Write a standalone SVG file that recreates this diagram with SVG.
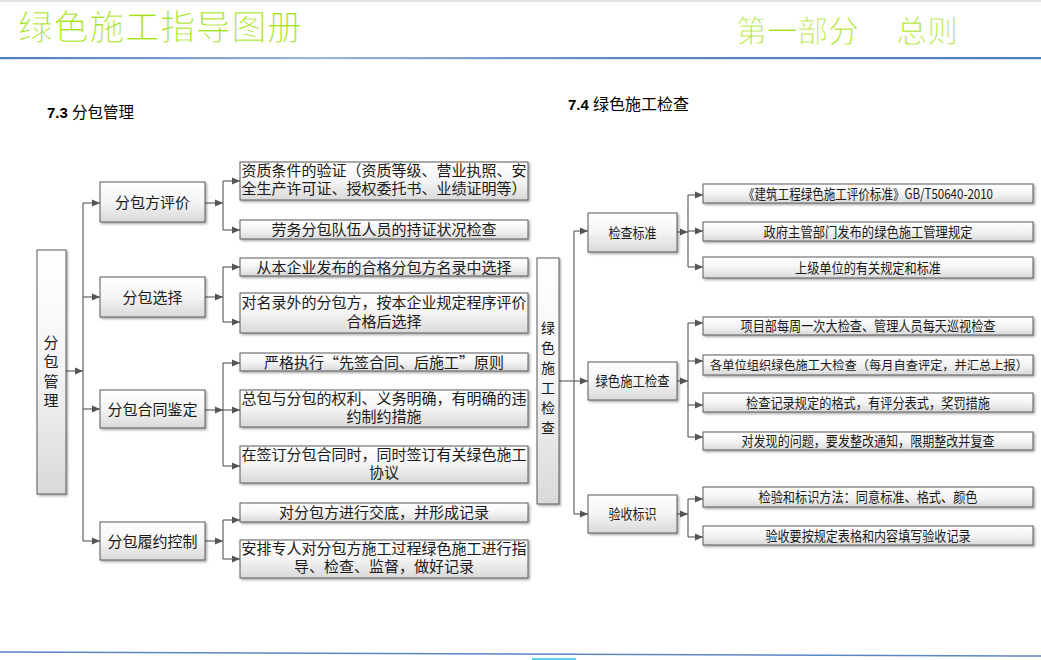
<svg xmlns="http://www.w3.org/2000/svg" width="1041" height="660" viewBox="0 0 1041 660">
<style>
.box{fill:url(#bg);stroke:#5a5a5a;stroke-width:1;filter:url(#sh)}
.t{font-family:"Noto Sans CJK SC","Liberation Sans",sans-serif;fill:#1a1a1a;text-anchor:middle}
.l{font-size:15px}
.r{font-size:14px}
.c{fill:none;stroke:#555;stroke-width:1.1}
.a{marker-end:url(#ah)}
.hd{font-family:"Noto Sans CJK SC","Liberation Sans",sans-serif;fill:#a2e21c;stroke:#fff;stroke-width:1.1}
.sec{font-family:"Liberation Sans","Noto Sans CJK SC",sans-serif;font-size:15px;fill:#000}
</style>
<defs>
<linearGradient id="bg" x1="0" y1="0" x2="0" y2="1">
<stop offset="0" stop-color="#ffffff"/>
<stop offset="0.5" stop-color="#f4f4f4"/>
<stop offset="1" stop-color="#d9d9d9"/>
</linearGradient>
<linearGradient id="bl" x1="0" y1="0" x2="1" y2="0">
<stop offset="0" stop-color="#4a7cc0"/>
<stop offset="0.3" stop-color="#9cb6da"/>
<stop offset="0.6" stop-color="#5a88c4"/>
<stop offset="1" stop-color="#4a7cc0"/>
</linearGradient>
<filter id="sh" x="-5%" y="-5%" width="115%" height="130%">
<feDropShadow dx="1.5" dy="1.5" stdDeviation="0.8" flood-color="#000" flood-opacity="0.35"/>
</filter>
<marker id="ah" markerUnits="userSpaceOnUse" markerWidth="9" markerHeight="8" refX="8" refY="4" orient="auto">
<path d="M0,0.5 L8,4 L0,7.5 z" fill="#555"/>
</marker>
</defs>
<rect x="0" y="0" width="1041" height="660" fill="#fff"/>
<rect x="0" y="0" width="1041" height="2" fill="#e2e2e2"/>
<g id="header">
<text class="hd" x="18" y="40" font-size="35" textLength="284">绿色施工指导图册</text>
<text class="hd" x="736" y="42" font-size="31" textLength="123">第一部分</text>
<text class="hd" x="896" y="42" font-size="31" textLength="62">总则</text>
<rect x="0" y="57" width="1041" height="2.2" fill="url(#bl)"/>
</g>
<g id="headings">
<text class="sec" x="47" y="118"><tspan font-weight="bold">7.3</tspan> <tspan font-family="Noto Sans CJK SC,sans-serif" font-size="15.5">分包管理</tspan></text>
<text class="sec" x="568" y="110"><tspan font-weight="bold">7.4</tspan> <tspan font-family="Noto Sans CJK SC,sans-serif" font-size="16">绿色施工检查</tspan></text>
</g>
<g id="connectors">
<path class="c a" d="M66,371 H83"/>
<path class="c" d="M83,203 V541"/>
<path class="c a" d="M83,203 H100"/>
<path class="c a" d="M83,297 H100"/>
<path class="c a" d="M83,409 H100"/>
<path class="c a" d="M83,541 H100"/>
<path class="c a" d="M205,203 H223"/>
<path class="c" d="M223,181 V230"/>
<path class="c a" d="M223,181 H240"/>
<path class="c a" d="M223,230 H240"/>
<path class="c a" d="M205,297 H223"/>
<path class="c" d="M223,267 V322"/>
<path class="c a" d="M223,267 H240"/>
<path class="c a" d="M223,322 H240"/>
<path class="c a" d="M205,410 H223"/>
<path class="c" d="M223,363 V466"/>
<path class="c a" d="M223,363 H240"/>
<path class="c a" d="M223,410 H240"/>
<path class="c a" d="M223,466 H240"/>
<path class="c a" d="M205,541 H223"/>
<path class="c" d="M223,520 V559"/>
<path class="c a" d="M223,520 H240"/>
<path class="c a" d="M223,559 H240"/>
<path class="c a" d="M559,381 H588"/>
<path class="c" d="M574,231 V514"/>
<path class="c a" d="M574,231 H588"/>
<path class="c a" d="M574,514 H588"/>
<path class="c a" d="M677,232 H688"/>
<path class="c" d="M688,195 V267"/>
<path class="c a" d="M688,195 H703"/>
<path class="c a" d="M688,231 H703"/>
<path class="c a" d="M688,267 H703"/>
<path class="c a" d="M677,381 H688"/>
<path class="c" d="M688,323 V437"/>
<path class="c a" d="M688,323 H703"/>
<path class="c a" d="M688,361 H703"/>
<path class="c a" d="M688,405 H703"/>
<path class="c a" d="M688,437 H703"/>
<path class="c a" d="M677,514 H688"/>
<path class="c" d="M688,499 V537"/>
<path class="c a" d="M688,499 H703"/>
<path class="c a" d="M688,537 H703"/>
</g>
<g id="n-fbgl">
<rect class="box" x="37" y="250" width="29" height="244"/>
<text class="t l" x="51" y="348">分</text>
<text class="t l" x="51" y="367">包</text>
<text class="t l" x="51" y="387">管</text>
<text class="t l" x="51" y="406">理</text>
</g>
<g id="n-fbfpj">
<rect class="box" x="100" y="182" width="105" height="40"/>
<text class="t l" x="152.5" y="207.5">分包方评价</text>
</g>
<g id="n-fbxz">
<rect class="box" x="100" y="277" width="105" height="40"/>
<text class="t l" x="152.5" y="302.5">分包选择</text>
</g>
<g id="n-fbhtjd">
<rect class="box" x="100" y="390" width="105" height="38"/>
<text class="t l" x="152.5" y="414.5">分包合同鉴定</text>
</g>
<g id="n-fblykz">
<rect class="box" x="100" y="522" width="105" height="38"/>
<text class="t l" x="152.5" y="546.5">分包履约控制</text>
</g>
<g id="n-zzyz">
<rect class="box" x="240" y="162" width="288" height="38"/>
<text class="t l" x="384" y="176">资质条件的验证（资质等级、营业执照、安</text>
<text class="t l" x="384" y="194">全生产许可证、授权委托书、业绩证明等）</text>
</g>
<g id="n-lwfb">
<rect class="box" x="240" y="220" width="288" height="19"/>
<text class="t l" x="384" y="235">劳务分包队伍人员的持证状况检查</text>
</g>
<g id="n-cbqy">
<rect class="box" x="240" y="258" width="288" height="18"/>
<text class="t l" x="384" y="272.5">从本企业发布的合格分包方名录中选择</text>
</g>
<g id="n-dmlw">
<rect class="box" x="240" y="293" width="288" height="40"/>
<text class="t l" x="384" y="308">对名录外的分包方，按本企业规定程序评价</text>
<text class="t l" x="384" y="327">合格后选择</text>
</g>
<g id="n-ygzx">
<rect class="box" x="240" y="353" width="288" height="18"/>
<text class="t l" x="384" y="367.5">严格执行“先签合同、后施工”原则</text>
</g>
<g id="n-zbyfb">
<rect class="box" x="240" y="390" width="288" height="37"/>
<text class="t l" x="384" y="404">总包与分包的权利、义务明确，有明确的违</text>
<text class="t l" x="384" y="422">约制约措施</text>
</g>
<g id="n-zqd">
<rect class="box" x="240" y="446" width="288" height="37"/>
<text class="t l" x="384" y="460">在签订分包合同时，同时签订有关绿色施工</text>
<text class="t l" x="384" y="478">协议</text>
</g>
<g id="n-jd">
<rect class="box" x="240" y="503" width="288" height="19"/>
<text class="t l" x="384" y="518">对分包方进行交底，并形成记录</text>
</g>
<g id="n-apzr">
<rect class="box" x="240" y="540" width="288" height="38"/>
<text class="t l" x="384" y="554">安排专人对分包方施工过程绿色施工进行指</text>
<text class="t l" x="384" y="572">导、检查、监督，做好记录</text>
</g>
<g id="n-lsjc">
<rect class="box" x="537" y="258" width="22" height="246"/>
<text class="t r" x="548" y="333">绿</text>
<text class="t r" x="548" y="353">色</text>
<text class="t r" x="548" y="373">施</text>
<text class="t r" x="548" y="393">工</text>
<text class="t r" x="548" y="413">检</text>
<text class="t r" x="548" y="433">查</text>
</g>
<g id="n-jcbz">
<rect class="box" x="588" y="213" width="89" height="39"/>
<text class="t r" x="632.5" y="237.5" textLength="48" lengthAdjust="spacingAndGlyphs">检查标准</text>
</g>
<g id="n-lssgjc">
<rect class="box" x="588" y="362" width="89" height="38"/>
<text class="t r" x="632.5" y="386" textLength="74" lengthAdjust="spacingAndGlyphs">绿色施工检查</text>
</g>
<g id="n-ysbs">
<rect class="box" x="588" y="495" width="89" height="38"/>
<text class="t r" x="632.5" y="519" textLength="48" lengthAdjust="spacingAndGlyphs">验收标识</text>
</g>
<g id="n-pjbz">
<rect class="box" x="703" y="184" width="330" height="19"/>
<text class="t r" x="868" y="198.5" textLength="250" lengthAdjust="spacingAndGlyphs">《建筑工程绿色施工评价标准》GB/T50640-2010</text>
</g>
<g id="n-zfzg">
<rect class="box" x="703" y="222" width="330" height="19"/>
<text class="t r" x="868" y="236.5" textLength="209" lengthAdjust="spacingAndGlyphs">政府主管部门发布的绿色施工管理规定</text>
</g>
<g id="n-sjdw">
<rect class="box" x="703" y="257" width="330" height="21"/>
<text class="t r" x="868" y="272.5" textLength="146" lengthAdjust="spacingAndGlyphs">上级单位的有关规定和标准</text>
</g>
<g id="n-xmb">
<rect class="box" x="703" y="317" width="330" height="18"/>
<text class="t r" x="868" y="331" textLength="255" lengthAdjust="spacingAndGlyphs">项目部每周一次大检查、管理人员每天巡视检查</text>
</g>
<g id="n-gdw">
<rect class="box" x="703" y="355" width="330" height="20"/>
<text class="t" x="869" y="369.5" font-size="12.5" textLength="318" lengthAdjust="spacingAndGlyphs">各单位组织绿色施工大检查（每月自查评定，并汇总上报）</text>
</g>
<g id="n-jcjl">
<rect class="box" x="703" y="393" width="330" height="19"/>
<text class="t r" x="868" y="407.5" textLength="244" lengthAdjust="spacingAndGlyphs">检查记录规定的格式，有评分表式，奖罚措施</text>
</g>
<g id="n-dfx">
<rect class="box" x="703" y="432" width="330" height="18"/>
<text class="t r" x="868" y="446" textLength="253" lengthAdjust="spacingAndGlyphs">对发现的问题，要发整改通知，限期整改并复查</text>
</g>
<g id="n-jybs">
<rect class="box" x="703" y="487" width="330" height="20"/>
<text class="t r" x="868" y="502" textLength="219" lengthAdjust="spacingAndGlyphs">检验和标识方法：同意标准、格式、颜色</text>
</g>
<g id="n-ysy">
<rect class="box" x="703" y="526" width="330" height="19"/>
<text class="t r" x="868" y="540.5" textLength="205" lengthAdjust="spacingAndGlyphs">验收要按规定表格和内容填写验收记录</text>
</g>
<g id="footer">
<path d="M0,652 L1041,656" stroke="#5b86c0" stroke-width="1.5" fill="none"/>
<rect x="532" y="658" width="44" height="2" fill="#5fd3ea"/>
</g>
</svg>
